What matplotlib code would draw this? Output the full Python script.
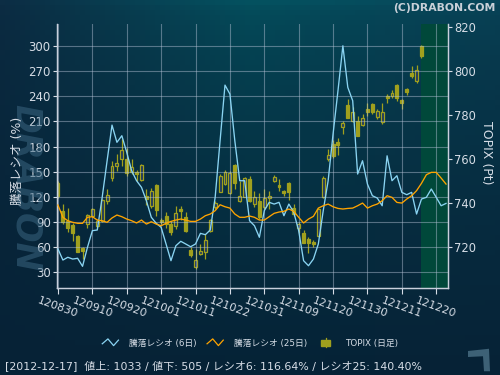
import numpy as np
import matplotlib.pyplot as plt
from matplotlib.lines import Line2D
from matplotlib.patches import Rectangle, Polygon
from matplotlib.legend_handler import HandlerBase

plt.rcParams['font.family'] = ['DejaVu Sans', 'Noto Sans CJK JP']

# x-axis tick labels (yymmdd), one every 7 trading days
tick_labels = ['120830', '120910', '120920', '121001', '121011', '121022',
               '121031', '121109', '121120', '121130', '121211', '121220']

# TOPIX daily candles (2012-08-30 .. 2012-12-17)
topix_open = [749.1, 736.5, 732.0, 730.0, 725.0, 719.5, 730.5, 734.2, 729.7, 732.0,
              741.0, 751.5, 757.0, 760.1, 760.1, 754.2, 754.2, 750.6, 743.2, 738.5,
              748.2, 732.3, 734.1, 730.5, 729.7, 737.3, 733.5, 718.6, 710.8, 716.8,
              717.6, 727.4, 738.0, 745.1, 748.6, 744.4, 757.3, 741.0, 742.9, 750.9,
              739.5, 741.0, 738.0, 742.3, 750.1, 748.2, 745.6, 749.1, 737.6, 728.5,
              726.2, 723.5, 722.4, 725.1, 742.6, 760.0, 766.8, 767.6, 774.7, 784.5,
              777.4, 777.4, 775.6, 782.7, 785.0, 779.0, 777.0, 788.8, 788.8, 793.6,
              786.8, 791.8, 799.0, 795.3, 811.5]
topix_close = [743.0, 731.5, 728.5, 726.4, 717.9, 718.3, 734.5, 737.3, 732.0, 741.5,
               743.8, 756.7, 758.2, 764.2, 753.5, 756.2, 753.2, 757.3, 742.0, 745.3,
               737.0, 731.2, 730.5, 727.0, 735.3, 736.5, 727.4, 716.5, 714.1, 718.3,
               723.2, 732.3, 740.0, 752.4, 754.2, 753.6, 749.0, 743.3, 751.4, 741.0,
               742.6, 733.5, 742.3, 743.3, 752.0, 747.1, 744.4, 745.1, 735.0, 730.5,
               722.0, 722.0, 721.2, 737.3, 751.2, 761.8, 761.5, 766.5, 776.4, 778.6,
               781.5, 770.6, 778.9, 781.2, 781.2, 781.7, 781.2, 787.7, 790.0, 787.7,
               785.5, 790.6, 797.9, 800.5, 807.0]
topix_high = [750.0, 739.5, 737.7, 731.0, 725.5, 719.8, 735.0, 737.5, 732.5, 742.0,
              746.5, 759.2, 762.3, 769.1, 765.0, 760.0, 755.0, 757.8, 746.5, 747.0,
              748.6, 733.0, 736.0, 732.0, 738.8, 738.5, 735.8, 720.0, 719.0, 721.2,
              725.9, 732.8, 741.0, 753.2, 755.0, 754.6, 757.8, 750.0, 751.7, 752.4,
              745.6, 744.5, 746.4, 745.6, 752.9, 750.9, 746.1, 749.7, 739.5, 731.5,
              727.7, 724.6, 723.2, 737.6, 752.1, 764.5, 768.6, 769.8, 777.1, 787.2,
              783.8, 779.7, 780.5, 785.5, 785.5, 782.8, 785.7, 789.6, 791.4, 794.0,
              787.2, 792.5, 802.4, 802.8, 812.0]
topix_low = [742.5, 730.5, 726.7, 722.9, 717.5, 714.5, 728.5, 733.5, 728.5, 731.5,
             739.5, 750.1, 754.7, 756.7, 752.5, 753.0, 750.1, 750.0, 739.0, 737.8,
             734.2, 730.5, 728.5, 725.3, 728.2, 732.2, 726.7, 715.4, 710.1, 716.5,
             714.5, 726.7, 737.3, 744.8, 748.2, 744.1, 746.5, 740.5, 742.6, 740.3,
             738.0, 732.7, 737.3, 737.3, 749.4, 745.6, 743.0, 741.5, 734.2, 726.2,
             721.7, 717.4, 720.2, 724.8, 742.3, 759.2, 760.7, 762.0, 771.5, 778.5,
             776.7, 770.3, 775.2, 779.5, 780.5, 778.3, 776.0, 785.5, 788.0, 786.6,
             782.6, 789.0, 796.8, 794.5, 806.0]

# advance/decline ratio (%)
ratio6 = [57.5, 44.3, 47.6, 45.5, 46.4, 36.8, 59.5, 79.4, 80.2, 119.3,
          163.0, 205.6, 185.0, 192.9, 173.0, 151.0, 139.1, 131.2, 115.2, 95.4,
          88.2, 83.4, 63.5, 43.5, 61.4, 66.7, 63.5, 60.2, 63.5, 76.2,
          74.6, 80.2, 119.3, 186.9, 253.4, 242.7, 186.9, 139.1, 139.1, 91.3,
          85.3, 71.5, 103.3, 113.3, 111.2, 113.3, 97.3, 111.2, 101.3, 79.4,
          43.5, 37.5, 45.5, 63.5, 103.3, 139.1, 194.9, 246.6, 300.4, 250.7,
          234.7, 147.1, 163.0, 135.1, 121.2, 118.4, 109.2, 168.9, 139.1, 145.1,
          125.2, 122.4, 125.2, 99.3, 117.2, 119.3, 129.2, 119.3, 109.2, 112.0]
ratio25 = [110.0, 95.4, 91.3, 89.4, 88.2, 88.2, 95.4, 96.1, 92.1, 91.3,
           89.4, 94.6, 98.1, 96.1, 93.3, 91.3, 88.6, 92.1, 87.3, 90.1,
           87.3, 85.3, 88.2, 90.5, 92.1, 93.3, 92.1, 90.5, 90.5, 93.3,
           97.3, 99.3, 103.3, 110.4, 108.0, 106.4, 99.3, 95.4, 95.4, 96.9,
           95.4, 92.1, 92.1, 96.1, 100.1, 101.7, 102.5, 105.3, 102.5, 95.4,
           88.6, 93.3, 96.5, 106.4, 109.2, 111.2, 108.0, 106.0, 105.3, 106.0,
           106.4, 109.2, 112.4, 106.4, 109.2, 111.2, 115.2, 121.2, 119.2, 113.2,
           112.4, 117.2, 121.2, 127.2, 136.0, 146.3, 149.1, 149.1, 142.3, 135.1]

status = '[2012-12-17]  値上: 1033 / 値下: 505 / レシオ6: 116.64% / レシオ25: 140.40%'

txt = '#d6dde6'
c6 = '#8ad4f2'
c25 = '#ffa400'
candle_c = '#a0a01e'

fig = plt.figure(figsize=(5, 3.75), dpi=100)

# background gradient
bg = fig.add_axes([0, 0, 1, 1], zorder=-10)
h, w = 75, 100
ys = np.linspace(0, 1, h)[:, None]
xs = np.linspace(0, 1, w)[None, :]
top = np.stack([np.interp(xs, [0, 0.5, 1], [12, 4, 8]),
                np.interp(xs, [0, 0.5, 1], [45, 82, 70]),
                np.interp(xs, [0, 0.5, 1], [68, 96, 90])], axis=-1)[0]
bottom = np.array([6, 34, 54])
t = ys[..., None] ** 0.55
img = (top[None, :, :] * (1 - t) + bottom * t) / 255
bg.imshow(img, aspect='auto', extent=[0, 1, 0, 1])
bg.set_xlim(0, 1)
bg.set_ylim(0, 1)
# small logo mark in the lower right corner
bg.add_patch(Polygon([[0.936, 0.064], [0.978, 0.070], [0.980, 0.010],
                      [0.968, 0.010], [0.966, 0.050], [0.936, 0.048]],
                     closed=True, color='#3d6176', lw=0))
bg.axis('off')

# big faint watermark
fig.text(0.052, 0.50, 'DRABON', rotation=270, ha='center', va='center',
         fontsize=25, fontweight='bold', style='italic', color='#3a6580', alpha=0.55)

ax = fig.add_axes([0.114, 0.2307, 0.782, 0.705])
axt = ax.twinx()
ax.set_zorder(2)
axt.set_zorder(1)
ax.patch.set_visible(False)
axt.patch.set_facecolor('#1b3561')

n_candle = len(topix_open)
xi = np.arange(n_candle)
axt.axvspan(n_candle - 1, 80, color='#00483a', zorder=0, lw=0)

# candles
bw = 0.6
for i in range(n_candle):
    o, c, hi, lo = topix_open[i], topix_close[i], topix_high[i], topix_low[i]
    axt.vlines(xi[i], lo, hi, color=candle_c, lw=0.9, zorder=2)
    up = c >= o
    rect = Rectangle((xi[i] - bw / 2, min(o, c)), bw, max(abs(c - o), 0.4),
                     facecolor='#1b3561' if up else candle_c,
                     edgecolor=candle_c, lw=0.9, zorder=3)
    axt.add_patch(rect)

axt.set_ylim(701.1, 821.4)
axt.set_yticks([720, 740, 760, 780, 800, 820])
axt.tick_params(axis='y', colors=txt, labelsize=8.3, length=3, width=0.8, pad=1.5)

# ratio lines
xr = np.arange(len(ratio6))
ax.plot(xr, ratio6, color=c6, lw=0.95, zorder=4)
ax.plot(xr, ratio25, color=c25, lw=0.95, zorder=4)

ax.set_xlim(-0.2, 79.4)
ax.set_ylim(10.3, 326.3)
ax.set_yticks(np.arange(30, 301, 30))
ax.set_xticks(np.arange(0, 7 * len(tick_labels), 7))
ax.set_xticklabels(tick_labels, rotation=-20, ha='center')
ax.tick_params(axis='y', colors=txt, labelsize=8.5, length=3, width=0.8, pad=1.5)
ax.tick_params(axis='x', colors=txt, labelsize=8, length=4, width=0.8, pad=1)
ax.grid(True, color='#b8c4d8', alpha=0.45, lw=0.8)

for a in (ax, axt):
    a.spines['top'].set_visible(False)
    for s in ('left', 'right', 'bottom'):
        a.spines[s].set_color('#c8d0dc')
        a.spines[s].set_linewidth(0.9)

fig.text(0.035, 0.57, '騰落レシオ (%)', rotation=90, ha='center', va='center',
         fontsize=9, color=txt)
fig.text(0.972, 0.593, 'TOPIX (Pt)', rotation=270, ha='center', va='center',
         fontsize=9, color=txt)
fig.text(0.992, 0.978, '(C)DRABON.COM', ha='right', va='center', fontsize=7.8,
         fontweight='bold', color='#c8d0d8')
fig.text(0.01, 0.025, status, ha='left', va='center', fontsize=7.9, color=txt)


class ZigZag(HandlerBase):
    def create_artists(self, legend, orig, xd, yd, width, height, fontsize, trans):
        px = np.array([0, 0.35, 0.7, 1.0]) * width - xd
        py = np.array([0.3, 1.1, 0.0, 0.9]) * height - yd
        ln = Line2D(px, py, color=orig.get_color(), lw=0.9, transform=trans)
        return [ln]


class CandleIcon(HandlerBase):
    def create_artists(self, legend, orig, xd, yd, width, height, fontsize, trans):
        cx = width / 2 - xd
        wick = Line2D([cx, cx], [-0.3 * height - yd, 1.3 * height - yd],
                      color=candle_c, lw=0.9, transform=trans)
        body = Rectangle((cx - 3, 0 - yd), 6, height, facecolor=candle_c,
                         edgecolor=candle_c, transform=trans)
        return [wick, body]


h6 = Line2D([], [], color=c6)
h25 = Line2D([], [], color=c25)
hc = Line2D([], [], color=candle_c)
fig.legend([h6, h25, hc], ['騰落レシオ (6日)', '騰落レシオ (25日)', 'TOPIX (日足)'],
           handler_map={h6: ZigZag(), h25: ZigZag(), hc: CandleIcon()},
           loc='center', bbox_to_anchor=(0.5, 0.085), ncol=3, frameon=False,
           fontsize=6.3, labelcolor=txt, handlelength=1.85, handletextpad=1.25,
           columnspacing=1.15)

fig.savefig('out.png', dpi=100, facecolor=fig.get_facecolor())
